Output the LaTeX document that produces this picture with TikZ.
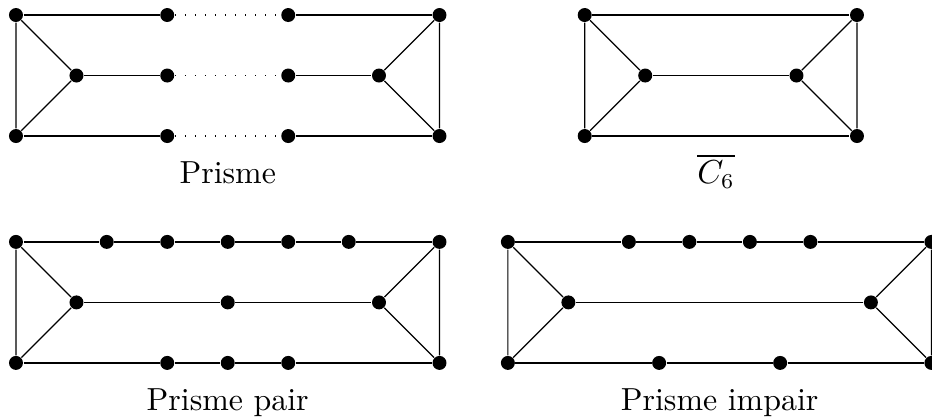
\documentclass[tikz,border=0pt]{standalone}
\usepackage{amsmath,amssymb}
\usepackage{tikz}
\usetikzlibrary{positioning}

\begin{document}
\begin{tikzpicture}[x=0.7cm,y=0.7cm,
    vtx/.style={circle,fill=black,inner sep=0pt,minimum size=4.6pt},
    nom/.style={anchor=base,font=\fontsize{10.5pt}{12pt}\selectfont},
    pointille/.style={dash pattern=on 0.4pt off 2.9pt}]
        \useasboundingbox (-0.264,0.248) rectangle (15.14,-6.628);
        % Prisme
        \node[vtx] (pa) at (0,0) {}; \node[vtx] (pb) at (0,-2) {}; \node[vtx] (pc) at (1,-1) {};
        \node[vtx] (pd) at (2.5,0) {}; \node[vtx] (pe) at (2.5,-1) {}; \node[vtx] (pf) at (2.5,-2) {};
        \node[vtx] (pg) at (4.5,0) {}; \node[vtx] (ph) at (4.5,-1) {}; \node[vtx] (pi) at (4.5,-2) {};
        \node[vtx] (pj) at (6,-1) {}; \node[vtx] (pk) at (7,0) {}; \node[vtx] (pl) at (7,-2) {};
        \draw (pa)--(pb)--(pc)--(pa); \draw (pj)--(pk)--(pl)--(pj);
        \draw (pa)--(pd); \draw (pc)--(pe); \draw (pb)--(pf);
        \draw (pg)--(pk); \draw (ph)--(pj); \draw (pi)--(pl);
        \draw[pointille] (pd)--(pg); \draw[pointille] (pe)--(ph); \draw[pointille] (pf)--(pi);
        \node[nom] (lp) at (3.5,-2.78) {Prisme};
        % complementaire de C6
        \node[vtx] (ca) at (9.4,0) {}; \node[vtx] (cb) at (9.4,-2) {}; \node[vtx] (cc) at (10.4,-1) {};
        \node[vtx] (cd) at (12.9,-1) {}; \node[vtx] (ce) at (13.9,0) {}; \node[vtx] (cf) at (13.9,-2) {};
        \draw (ca)--(cb)--(cc)--(ca); \draw (cd)--(ce)--(cf)--(cd);
        \draw (ca)--(ce); \draw (cc)--(cd); \draw (cb)--(cf);
        \node[nom] (lc) at (11.57,-2.78) {$\overline{C_6}$};
        % Prisme pair
        \node[vtx] (qa) at (0,-3.75) {}; \node[vtx] (qb) at (0,-5.75) {}; \node[vtx] (qc) at (1,-4.75) {};
        \node[vtx] (q1) at (1.5,-3.75) {}; \node[vtx] (q2) at (2.5,-3.75) {}; \node[vtx] (q3) at (3.5,-3.75) {};
        \node[vtx] (q4) at (4.5,-3.75) {}; \node[vtx] (q5) at (5.5,-3.75) {};
        \node[vtx] (qm) at (3.5,-4.75) {};
        \node[vtx] (qs) at (2.5,-5.75) {}; \node[vtx] (qt) at (3.5,-5.75) {}; \node[vtx] (qu) at (4.5,-5.75) {};
        \node[vtx] (qj) at (6,-4.75) {}; \node[vtx] (qk) at (7,-3.75) {}; \node[vtx] (ql) at (7,-5.75) {};
        \draw (qa)--(qb)--(qc)--(qa); \draw (qj)--(qk)--(ql)--(qj);
        \draw (qa)--(q1)--(q2)--(q3)--(q4)--(q5)--(qk);
        \draw (qc)--(qm)--(qj);
        \draw (qb)--(qs)--(qt)--(qu)--(ql);
        \node[nom] (lq) at (3.5,-6.53) {Prisme pair};
        % Prisme impair
        \node[vtx] (ra) at (8.13,-3.75) {}; \node[vtx] (rb) at (8.13,-5.75) {}; \node[vtx] (rc) at (9.13,-4.75) {};
        \node[vtx] (r1) at (10.13,-3.75) {}; \node[vtx] (r2) at (11.13,-3.75) {};
        \node[vtx] (r3) at (12.13,-3.75) {}; \node[vtx] (r4) at (13.13,-3.75) {};
        \node[vtx] (rs) at (10.63,-5.75) {}; \node[vtx] (rt) at (12.63,-5.75) {};
        \node[vtx] (rj) at (14.13,-4.75) {}; \node[vtx] (rk) at (15.13,-3.75) {}; \node[vtx] (rl) at (15.13,-5.75) {};
        \draw (ra)--(rb)--(rc)--(ra); \draw (rj)--(rk)--(rl)--(rj);
        \draw (ra)--(r1)--(r2)--(r3)--(r4)--(rk);
        \draw (rc)--(rj);
        \draw (rb)--(rs)--(rt)--(rl);
        \node[nom] (lr) at (11.63,-6.53) {Prisme impair};
\end{tikzpicture}
\end{document}
